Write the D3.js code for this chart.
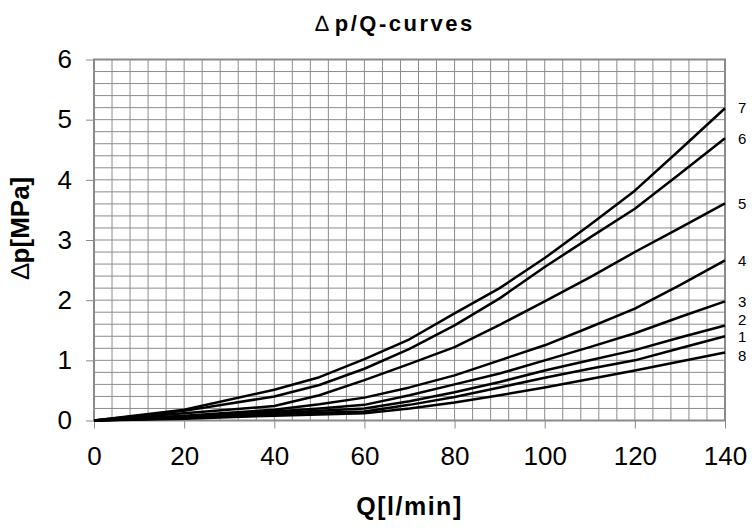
<!doctype html>
<html lang="en">
<head>
    <meta charset="utf-8">
    <title>dp/Q-curves</title>
    <script src="https://cdnjs.cloudflare.com/ajax/libs/d3/7.8.5/d3.min.js"></script>
    <style>
        body {
            margin: 0;
            background: #fff;
        }

        #chart text {
            font-family: "Liberation Sans", Arial, sans-serif;
            fill: #000;
        }
    </style>
</head>
<body>
    <div id="chart"></div>
    <script>

        // flow values (x) shared by every curve
        var flowQ = [0, 20, 40, 50, 60, 70, 80, 90, 100, 110, 120, 130, 140];

        // pressure drop [MPa] per curve
        var curve1 = [0, 0.04, 0.10, 0.13, 0.15, 0.26, 0.39, 0.55, 0.71, 0.86, 1.00, 1.20, 1.40];
        var curve2 = [0, 0.05, 0.12, 0.16, 0.20, 0.32, 0.47, 0.64, 0.83, 1.00, 1.17, 1.38, 1.58];
        var curve3 = [0, 0.06, 0.15, 0.20, 0.26, 0.42, 0.60, 0.78, 1.00, 1.22, 1.45, 1.72, 1.98];
        var curve4 = [0, 0.08, 0.18, 0.27, 0.38, 0.55, 0.75, 1.00, 1.25, 1.55, 1.86, 2.25, 2.66];
        var curve5 = [0, 0.12, 0.24, 0.42, 0.67, 0.94, 1.22, 1.59, 1.98, 2.38, 2.80, 3.20, 3.61];
        var curve6 = [0, 0.16, 0.40, 0.59, 0.86, 1.19, 1.58, 2.03, 2.55, 3.04, 3.52, 4.10, 4.69];
        var curve7 = [0, 0.18, 0.51, 0.72, 1.02, 1.35, 1.78, 2.20, 2.70, 3.25, 3.82, 4.50, 5.19];
        var curve8 = [0, 0.03, 0.08, 0.10, 0.12, 0.20, 0.30, 0.42, 0.55, 0.69, 0.83, 0.98, 1.13];

        var curveNames = ["1", "2", "3", "4", "5", "6", "7", "8"];
        var curveValues = [curve1, curve2, curve3, curve4, curve5, curve6, curve7, curve8];
        // small vertical nudges so the bunched labels 2/1/8 stay readable
        var labelNudge = [0, -6, 0, 0, 0, 0, 0, 3];

        // axis ticks
        var xTicks = [0, 20, 40, 60, 80, 100, 120, 140];
        var yTicks = [0, 1, 2, 3, 4, 5, 6];

        var width = 752,
            height = 530;

        var x = d3.scaleLinear()
            .domain([0, 140])
            .range([94, 725]);

        var y = d3.scaleLinear()
            .domain([0, 6])
            .range([420.5, 59.5]);

        var svg = d3.select("#chart")
            .append("svg")
            .attr("width", width)
            .attr("height", height);

        // minor grid: every 4 l/min and every 0.2 MPa
        var grid = svg.append("g")
            .attr("stroke", "#8c8c8c")
            .attr("stroke-width", 1);

        grid.selectAll("line.vx")
            .data(d3.range(4, 140, 4))
            .enter()
            .append("line")
            .attr("class", "vx")
            .attr("x1", x).attr("x2", x)
            .attr("y1", y(0)).attr("y2", y(6));

        grid.selectAll("line.hy")
            .data(d3.range(1, 30).map(function(i) { return i * 0.2; }))
            .enter()
            .append("line")
            .attr("class", "hy")
            .attr("x1", x(0)).attr("x2", x(140))
            .attr("y1", y).attr("y2", y);

        // plot frame
        svg.append("rect")
            .attr("x", x(0))
            .attr("y", y(6))
            .attr("width", x(140) - x(0))
            .attr("height", y(0) - y(6))
            .attr("fill", "none")
            .attr("stroke", "#8a8a8a")
            .attr("stroke-width", 2);

        // axes
        var xAxis = d3.axisBottom(x)
            .tickValues(xTicks)
            .tickSize(8)
            .tickPadding(18)
            .tickFormat(d3.format("d"));

        var yAxis = d3.axisLeft(y)
            .tickValues(yTicks)
            .tickSize(8)
            .tickPadding(14)
            .tickFormat(d3.format("d"));

        var gx = svg.append("g")
            .attr("transform", "translate(0," + y(0) + ")")
            .call(xAxis);

        var gy = svg.append("g")
            .attr("transform", "translate(" + x(0) + ",0)")
            .call(yAxis);

        [gx, gy].forEach(function(g) {
            g.select(".domain").remove();
            g.selectAll(".tick line").attr("stroke", "#8a8a8a");
            g.selectAll(".tick text")
                .style("font-size", "26px")
                .attr("fill", "#000");
        });

        // curves
        var line = d3.line()
            .x(function(d, i) { return x(flowQ[i]); })
            .y(function(d) { return y(d); });

        svg.append("g")
            .selectAll("path")
            .data(curveValues)
            .enter()
            .append("path")
            .attr("d", line)
            .attr("fill", "none")
            .attr("stroke", "#000")
            .attr("stroke-width", 2.5)
            .attr("stroke-linejoin", "round");

        // curve numbers at the right end
        svg.append("g")
            .selectAll("text")
            .data(curveValues)
            .enter()
            .append("text")
            .attr("x", x(140) + 13)
            .attr("y", function(d, i) { return y(d[d.length - 1]) + labelNudge[i]; })
            .attr("dy", "0.35em")
            .style("font-size", "15px")
            .text(function(d, i) { return curveNames[i]; });

        // titles
        var title = svg.append("text")
            .attr("x", 395)
            .attr("y", 31)
            .attr("text-anchor", "middle")
            .style("font-size", "22px");
        title.append("tspan").text("\u2206 ");
        title.append("tspan")
            .style("font-weight", "bold")
            .style("letter-spacing", "2.5px")
            .text("p/Q-curves");

        svg.append("text")
            .attr("x", (x(0) + x(140)) / 2)
            .attr("y", 515)
            .attr("text-anchor", "middle")
            .style("font-size", "25px")
            .style("font-weight", "bold")
            .style("letter-spacing", "1.5px")
            .text("Q[l/min]");

        var ytitle = svg.append("text")
            .attr("transform", "translate(29,228) rotate(-90)")
            .attr("text-anchor", "middle")
            .style("font-size", "26px")
            .style("font-weight", "bold");
        ytitle.append("tspan").style("font-weight", "normal").text("\u2206");
        ytitle.append("tspan").text("p[MPa]");

    </script>
</body>
</html>
